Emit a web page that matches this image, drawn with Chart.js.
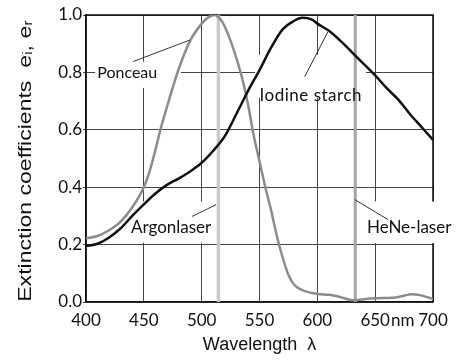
<!DOCTYPE html>
<html>
<head>
<meta charset="utf-8">
<script src="https://cdn.jsdelivr.net/npm/chart.js@4"></script>
<style>
  html, body { margin: 0; padding: 0; background: #fff; }
  #wrap { width: 457px; height: 361px; position: relative; }
</style>
</head>
<body>
<div id="wrap"><canvas id="c"></canvas></div>
<script>
// ---- data ----
const ponceauWavelengths = [400,410,420,430,440,450,455,460,465,470,480,490,500,505,511,518,525,530,535,540,545,550,555,560,565,570,575,580,590,600,610,620,631,640,651,660,668,675,681,689,700];
const ponceauValues      = [0.222,0.23,0.25,0.28,0.33,0.40,0.455,0.53,0.61,0.68,0.81,0.91,0.97,0.99,1.0,0.975,0.91,0.85,0.78,0.69,0.58,0.49,0.40,0.32,0.23,0.155,0.095,0.06,0.037,0.028,0.025,0.017,0.006,0.01,0.013,0.014,0.016,0.022,0.027,0.024,0.01];
const iodineWavelengths  = [400,410,420,430,440,450,460,470,480,490,500,510,520,530,540,550,560,570,580,587,595,600,610,620,630,640,650,660,670,680,690,700];
const iodineValues       = [0.195,0.203,0.225,0.257,0.30,0.34,0.378,0.408,0.43,0.455,0.485,0.527,0.578,0.655,0.735,0.808,0.886,0.95,0.98,0.99,0.985,0.97,0.945,0.91,0.87,0.83,0.79,0.745,0.705,0.655,0.61,0.565];
const laserWavelengths   = [514.5, 632.8];
const laserNames         = ['Argonlaser', 'HeNe-laser'];
const xTickValues        = [400,450,500,550,600,650,700];
const xTickLabels        = ['400','450','500','550','600','650','700'];
const xUnit              = 'nm';
const yTickLabels        = ['0.0','0.2','0.4','0.6','0.8','1.0'];

// ---- annotation placement (data units) ----
const notes = [
  { text: 'Ponceau',       size: 16, left: 409.7, cy: 0.80,  box: [407.8, 482.1, 0.746, 0.837], line: [[440.9,0.838],[489.9,0.913]], spacing: 0 },
  { text: 'Iodine starch', size: 17, left: 550.1, cy: 0.72,  box: [546.1, 642.1, 0.711, 0.861], line: [[589.1,0.785],[609.2,0.942]], spacing: 0.5 },
  { text: laserNames[0],   size: 17, left: 438.9, cy: 0.258, box: [436.3, 511.5, 0.207, 0.350], line: [[491.6,0.298],[512.4,0.339]], spacing: 0 },
  { text: laserNames[1],   size: 17, left: 642.9, cy: 0.26,  box: [638.6, 714.7, 0.205, 0.350], line: [[632.3,0.357],[661.1,0.287]], spacing: 0 }
];

const toPts = (xs, ys) => xs.map((x, i) => ({ x: x, y: ys[i] }));
const laserPts = w => [{ x: w, y: 0 }, { x: w, y: 1 }];

const TICK_FONT = { family: 'Lato', size: 17 };

const framePlugin = {
  id: 'frame',
  beforeDatasetsDraw(chart) {
    const { ctx, chartArea: a, scales: { x, y } } = chart;
    ctx.save();
    ctx.strokeStyle = '#111';
    ctx.lineWidth = 1.5;
    ctx.beginPath();
    ctx.moveTo(a.left, a.top); ctx.lineTo(a.right, a.top); ctx.lineTo(a.right, a.bottom);
    ctx.stroke();
    ctx.fillStyle = '#fff';
    notes.forEach(n => {
      const x0 = x.getPixelForValue(n.box[0]), x1 = x.getPixelForValue(n.box[1]);
      const y0 = y.getPixelForValue(n.box[3]), y1 = y.getPixelForValue(n.box[2]);
      ctx.fillRect(x0, y0, x1 - x0, y1 - y0);
    });
    ctx.restore();
  },
  afterDatasetsDraw(chart) {
    const { ctx, scales: { x, y } } = chart;
    ctx.save();
    notes.forEach(n => {
      ctx.strokeStyle = '#333';
      ctx.lineWidth = 1;
      ctx.beginPath();
      ctx.moveTo(x.getPixelForValue(n.line[0][0]), y.getPixelForValue(n.line[0][1]));
      ctx.lineTo(x.getPixelForValue(n.line[1][0]), y.getPixelForValue(n.line[1][1]));
      ctx.stroke();
      ctx.fillStyle = '#111';
      ctx.font = n.size + 'px Lato';
      ctx.textBaseline = 'middle';
      ctx.textAlign = 'left';
      if ('letterSpacing' in ctx) ctx.letterSpacing = n.spacing + 'px';
      ctx.fillText(n.text, x.getPixelForValue(n.left), y.getPixelForValue(n.cy));
      if ('letterSpacing' in ctx) ctx.letterSpacing = '0px';
    });
    ctx.restore();
  },
  afterDraw(chart) {
    const { ctx, scales: { x } } = chart;
    ctx.save();
    ctx.font = TICK_FONT.size + 'px ' + TICK_FONT.family;
    ctx.fillStyle = '#111';
    ctx.textBaseline = 'middle';
    ctx.textAlign = 'left';
    const v = 650;
    const w = ctx.measureText(xTickLabels[xTickValues.indexOf(v)]).width;
    const ty = x.top + 8 + TICK_FONT.size * 1.2 / 2;
    ctx.fillText(xUnit, x.getPixelForValue(v) + w / 2 + 1, ty);
    // y axis title (stretched along its length like the reference)
    ctx.font = '18px "Liberation Sans", Arial, sans-serif';
    ctx.translate(26, 161);
    ctx.rotate(-Math.PI / 2);
    ctx.scale(1.28, 1);
    ctx.textAlign = 'center';
    ctx.textBaseline = 'middle';
    ctx.fillText('Extinction coefficients  e\u1d62, e\u1d63', 0, 0);
    ctx.restore();
  }
};

new Chart(document.getElementById('c'), {
  type: 'scatter',
  data: {
    datasets: [
      { label: 'Iodine starch', data: toPts(iodineWavelengths, iodineValues), showLine: true, borderColor: '#111', borderWidth: 2.5, pointRadius: 0, cubicInterpolationMode: 'monotone', order: 1 },
      { label: 'Ponceau', data: toPts(ponceauWavelengths, ponceauValues), showLine: true, borderColor: '#8c8c8c', borderWidth: 2.5, pointRadius: 0, cubicInterpolationMode: 'monotone', order: 2 },
      { label: laserNames[0], data: laserPts(laserWavelengths[0]), showLine: true, borderColor: '#c9c9c9', borderWidth: 3.5, pointRadius: 0, order: 3 },
      { label: laserNames[1], data: laserPts(laserWavelengths[1]), showLine: true, borderColor: '#a6a6a6', borderWidth: 3, pointRadius: 0, order: 3 }
    ]
  },
  options: {
    responsive: true,
    maintainAspectRatio: false,
    animation: false,
    layout: { padding: { left: 0, right: 24, top: 15, bottom: 0 } },
    plugins: { legend: { display: false }, tooltip: { enabled: false } },
    scales: {
      x: {
        type: 'linear', min: 400, max: 700,
        afterBuildTicks: s => { s.ticks = xTickValues.map(v => ({ value: v })); },
        ticks: { font: TICK_FONT, color: '#111', padding: 8, maxRotation: 0,
                 callback: v => xTickLabels[xTickValues.indexOf(v)] },
        grid: { color: '#444', lineWidth: 1, drawTicks: false },
        border: { color: '#111', width: 1.5 },
        title: { display: true, text: 'Wavelength  \u03bb', font: { family: 'Liberation Sans', size: 18 }, color: '#111', padding: { top: 0, bottom: 5 } },
        afterFit: s => { s.height = 59; }
      },
      y: {
        min: 0, max: 1,
        ticks: { stepSize: 0.2, font: TICK_FONT, color: '#111', padding: 1,
                 callback: v => yTickLabels[Math.round(v * 5)] },
        grid: { color: '#444', lineWidth: 1, tickLength: 3 },
        border: { color: '#111', width: 1.5 },
        afterFit: s => { s.width = 86; }
      }
    }
  },
  plugins: [framePlugin]
});
</script>
</body>
</html>
